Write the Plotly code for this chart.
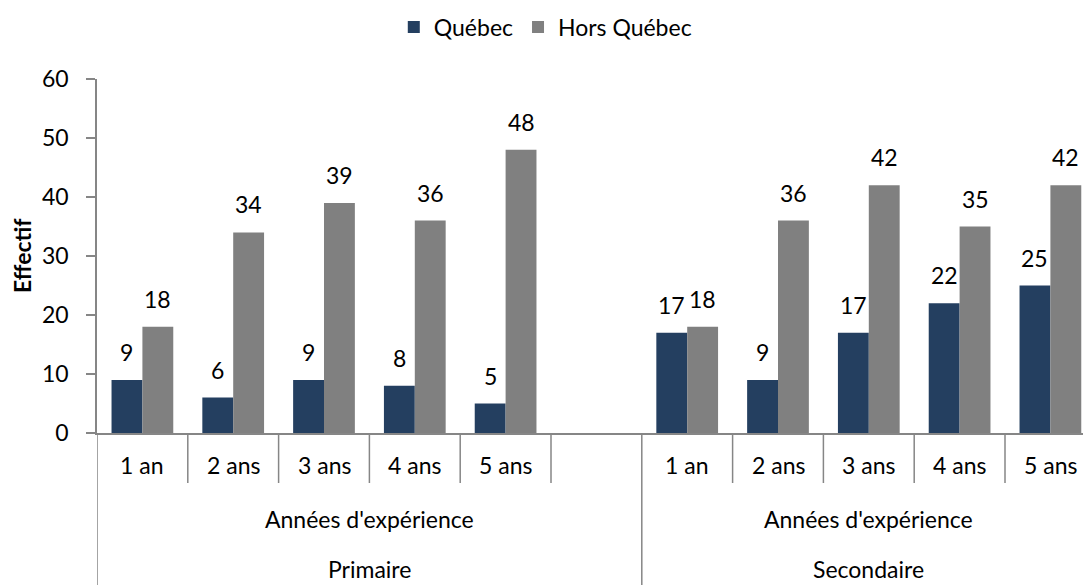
import plotly.graph_objects as go

# ---- data ----
slots = ["1 an", "2 ans", "3 ans", "4 ans", "5 ans", "", "1 an", "2 ans", "3 ans", "4 ans", "5 ans"]
quebec = [9, 6, 9, 8, 5, None, 17, 9, 17, 22, 25]
hors_quebec = [18, 34, 39, 36, 48, None, 18, 36, 42, 35, 42]
level2_labels = ["Années d'expérience", "Années d'expérience"]
level3_labels = ["Primaire", "Secondaire"]
group_spans = [(-0.5, 5.5), (5.5, 10.5)]
y_ticks = [0, 10, 20, 30, 40, 50, 60]

NAVY = "#243F60"
GRAY = "#808080"
AXIS = "#868686"
FONT = "Lato"
FS = 23

x_idx = list(range(len(slots)))

fig = go.Figure()
fig.add_trace(go.Bar(name="Québec", x=x_idx, y=quebec, marker_color=NAVY, marker_line_width=0))
fig.add_trace(go.Bar(name="Hors Québec", x=x_idx, y=hors_quebec, marker_color=GRAY, marker_line_width=0))

bargap = 0.32
bw = (1 - bargap) / 2
annotations = []
for vals, off in ((quebec, -bw / 2), (hors_quebec, bw / 2)):
    for i, v in enumerate(vals):
        if v is None:
            continue
        annotations.append(dict(x=i + off, y=v, xref="x", yref="y", text=str(v), showarrow=False,
                                yanchor="bottom", yshift=12, font=dict(family=FONT, size=FS, color="#000")))

# pixel helpers (plot area: y from 79 to 433 px)
PLOT_TOP, PLOT_BOT = 79, 433
H = PLOT_BOT - PLOT_TOP
def py(p):
    return (PLOT_BOT - p) / H

# category labels
for i, lab in enumerate(slots):
    if lab:
        annotations.append(dict(x=i, y=py(465), xref="x", yref="paper", text=lab, showarrow=False,
                                yanchor="middle", font=dict(family=FONT, size=FS, color="#000")))
for (a, b), l2, l3 in zip(group_spans, level2_labels, level3_labels):
    c = (a + b) / 2
    annotations.append(dict(x=c, y=py(519), xref="x", yref="paper", text=l2, showarrow=False,
                            yanchor="middle", font=dict(family=FONT, size=FS, color="#000")))
    annotations.append(dict(x=c, y=py(569), xref="x", yref="paper", text=l3, showarrow=False,
                            yanchor="middle", font=dict(family=FONT, size=FS, color="#000")))

# y title
annotations.append(dict(x=(22 - 97) / 986, y=0.5, xref="paper", yref="paper", text="<b>Effectif</b>",
                        showarrow=False, textangle=-90, xanchor="center", yanchor="middle",
                        font=dict(family=FONT, size=FS, color="#000")))

shapes = []
for i in range(len(slots)):
    xb = i + 0.5
    if abs(xb - 5.5) < 1e-9 or abs(xb - 10.5) < 1e-9:
        continue
    shapes.append(dict(type="line", xref="x", yref="paper", x0=xb, x1=xb, y0=0, y1=py(483),
                       line=dict(color=AXIS, width=1.5)))
for xb in (-0.5, 5.5):
    shapes.append(dict(type="line", xref="x", yref="paper", x0=xb, x1=xb, y0=0, y1=py(585),
                       line=dict(color=AXIS, width=1.5)))

fig.update_layout(
    width=1083, height=585,
    margin=dict(l=97, r=0, t=PLOT_TOP, b=585 - PLOT_BOT),
    paper_bgcolor="white", plot_bgcolor="white",
    barmode="group", bargap=bargap, bargroupgap=0,
    font=dict(family=FONT, size=FS, color="#000"),
    showlegend=True,
    legend=dict(orientation="h", xref="container", yref="container", x=0.5035, y=1 - 27 / 585,
                xanchor="center", yanchor="middle", font=dict(family=FONT, size=FS, color="#000"),
                itemwidth=30, traceorder="normal"),
    xaxis=dict(range=[-0.5, -0.5 + 986 / 90.8], showticklabels=False, showgrid=False, zeroline=False,
               showline=True, linecolor=AXIS, linewidth=1.5, ticks=""),
    yaxis=dict(range=[0, 60], tickvals=y_ticks, showgrid=False, zeroline=False, showline=True,
               linecolor=AXIS, linewidth=1.5, ticks="outside", ticklen=9, tickcolor=AXIS, tickwidth=1.5,
               ticklabelstandoff=13, tickfont=dict(family=FONT, size=FS, color="#000")),
    annotations=annotations,
    shapes=shapes,
)

fig.write_html("out.html", config={"displayModeBar": False},
               post_script="document.body.style.margin='0';document.body.style.overflow='hidden';")
